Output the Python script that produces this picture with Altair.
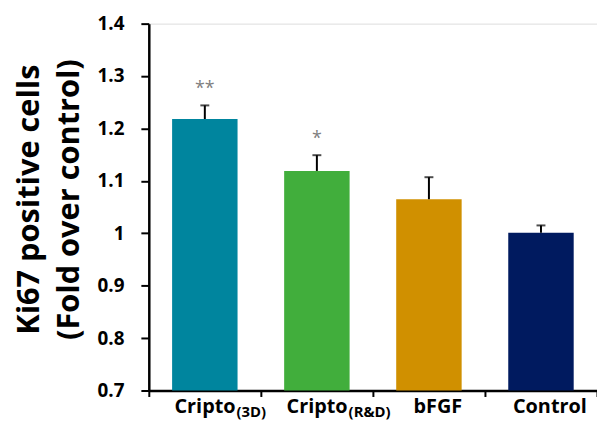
import altair as alt
import pandas as pd

categories = ["Cripto3D", "CriptoRD", "bFGF", "Control"]
main_labels = ["Cripto", "Cripto", "bFGF", "Control"]
sub_labels = ["(3D)", "(R&D)", "", ""]
values = [1.218, 1.119, 1.065, 1.001]
errors = [0.026, 0.030, 0.042, 0.014]
stars = ["**", "*", "", ""]
colors = ["#00859E", "#41AE3C", "#D09000", "#001A5F"]

df = pd.DataFrame({
    "cat": categories,
    "main": main_labels,
    "sub": sub_labels,
    "value": values,
    "upper": [v + e for v, e in zip(values, errors)],
    "star": stars,
})

FONT = "Open Sans"
x = alt.X("cat:N", sort=categories,
          scale=alt.Scale(paddingInner=0, paddingOuter=0),
          axis=alt.Axis(title=None, labels=False, tickBand="extent", tickSize=6,
                        tickWidth=2, domainWidth=2.5, domainColor="black", tickColor="black"))
yscale = alt.Scale(domain=[0.7, 1.4], zero=False, nice=False)

base = alt.Chart(df)

bars = base.mark_bar(size=66).encode(
    x=x,
    y=alt.Y("value:Q", scale=yscale,
            axis=alt.Axis(values=[0.7, 0.8, 0.9, 1.0, 1.1, 1.2, 1.3, 1.4], format=".1~f",
                          grid=False, tickSize=8, tickWidth=2, domainWidth=2.5,
                          domainColor="black", tickColor="black",
                          labelFont=FONT, labelFontSize=19, labelFontWeight="bold",
                          labelColor="black", labelPadding=17,
                          title=["Ki67 positive cells", "(Fold over control)"],
                          titleFont=FONT, titleFontSize=31, titleFontWeight="bold",
                          titleColor="black", titleAngle=-90, titleLineHeight=40,
                          titleX=-120, titleY=177, titleAlign="center",
                          titleBaseline="middle")),
    y2=alt.datum(0.7),
    color=alt.Color("cat:N", scale=alt.Scale(domain=categories, range=colors), legend=None),
)

err = base.mark_rule(color="black", strokeWidth=2).encode(
    x=alt.X("cat:N", sort=categories), y=alt.Y("value:Q"), y2="upper:Q")
caps = base.mark_tick(color="black", thickness=2, size=9, orient="horizontal").encode(
    x=alt.X("cat:N", sort=categories), y=alt.Y("upper:Q"))
star_txt = base.mark_text(color="#7F7F7F", fontSize=18, dy=-7, baseline="bottom", font=FONT).encode(
    x=alt.X("cat:N", sort=categories), y=alt.Y("upper:Q"), text="star:N")

lab_common = dict(font=FONT, fontWeight="bold", color="black", baseline="alphabetic")
lab_cripto = base.transform_filter(alt.datum.sub != "").mark_text(
    fontSize=20, align="right", dx=31, dy=23, **lab_common).encode(
    x=alt.X("cat:N", sort=categories), y=alt.datum(0.7), text="main:N")
lab_sub = base.transform_filter(alt.datum.sub != "").mark_text(
    fontSize=15, align="left", dx=32, dy=27, **lab_common).encode(
    x=alt.X("cat:N", sort=categories), y=alt.datum(0.7), text="sub:N")
lab_plain = base.transform_filter(alt.datum.sub == "").mark_text(
    fontSize=20, align="center", dx=9, dy=23, **lab_common).encode(
    x=alt.X("cat:N", sort=categories), y=alt.datum(0.7), text="main:N")

chart = alt.layer(bars, err, caps, star_txt, lab_cripto, lab_sub, lab_plain).properties(
    width=452, height=370,
    autosize=alt.AutoSizeParams(type="none"),
    padding={"left": 142, "top": 14, "right": 0, "bottom": 33},
).configure_view(stroke=None).configure(background="white")

chart.save("out.html", embed_options={"renderer": "svg", "actions": False})
